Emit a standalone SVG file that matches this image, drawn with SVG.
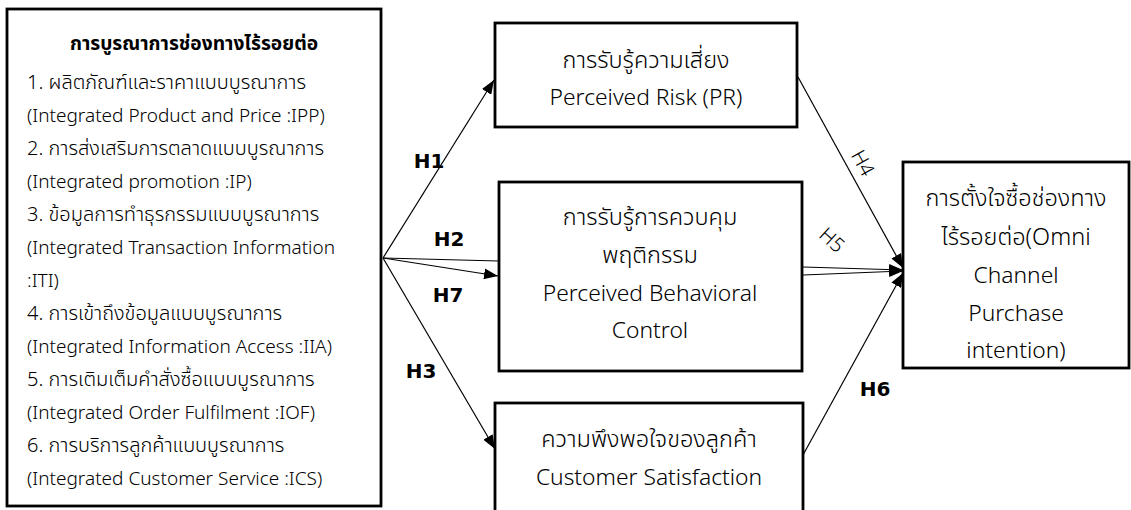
<svg xmlns="http://www.w3.org/2000/svg" width="1131" height="510" viewBox="0 0 1131 510">
  <style>
    .box { fill: #ffffff; stroke: #000000; stroke-width: 2.8; }
    .t { font-family: "Noto Sans", "Noto Sans Thai", "Leelawadee UI", "Open Sans", sans-serif; fill: #000000; font-weight: 300; }
    .en { font-size: 19px; }
    .th { font-size: 20px; }
    .head { font-size: 19.2px; font-weight: bold; }
    .len { font-size: 22.8px; text-anchor: middle; }
    .lth { font-size: 23.5px; text-anchor: middle; }
    .h { font-family: "DejaVu Sans", "Liberation Sans", sans-serif; font-size: 20px; font-weight: bold; fill: #000000; text-anchor: middle; }
    .hr { font-family: "Noto Sans", "Open Sans", sans-serif; font-size: 20px; font-weight: 300; fill: #000000; text-anchor: middle; }
    .edge { stroke: #000000; stroke-width: 1.2; fill: none; }
  </style>
  <defs>
    <marker id="arrow" viewBox="0 0 14 11" refX="14" refY="5.5" markerUnits="userSpaceOnUse" markerWidth="14" markerHeight="11" orient="auto">
      <path d="M0,0 L14,5.5 L0,11 z" fill="#000000"/>
    </marker>
  </defs>

  <rect width="1131" height="510" fill="#ffffff"/>

  <!-- Omni-channel integration factors -->
  <g id="integration">
    <rect class="box" x="7" y="9" width="374" height="497"/>
    <text class="t head" x="194" y="50" text-anchor="middle">การบูรณาการช่องทางไร้รอยต่อ</text>
    <text class="t th" x="27" y="89">1. ผลิตภัณฑ์และราคาแบบบูรณาการ</text>
    <text class="t en" x="27" y="122">(Integrated Product and Price :IPP)</text>
    <text class="t th" x="27" y="155">2. การส่งเสริมการตลาดแบบบูรณาการ</text>
    <text class="t en" x="27" y="188">(Integrated promotion :IP)</text>
    <text class="t th" x="27" y="221">3. ข้อมูลการทำธุรกรรมแบบบูรณาการ</text>
    <text class="t en" x="27" y="254">(Integrated Transaction Information</text>
    <text class="t en" x="27" y="287">:ITI)</text>
    <text class="t th" x="27" y="320">4. การเข้าถึงข้อมูลแบบบูรณาการ</text>
    <text class="t en" x="27" y="353">(Integrated Information Access :IIA)</text>
    <text class="t th" x="27" y="386">5. การเติมเต็มคำสั่งซื้อแบบบูรณาการ</text>
    <text class="t en" x="27" y="419">(Integrated Order Fulfilment :IOF)</text>
    <text class="t th" x="27" y="452">6. การบริการลูกค้าแบบบูรณาการ</text>
    <text class="t en" x="27" y="485">(Integrated Customer Service :ICS)</text>
  </g>

  <!-- Perceived risk -->
  <g id="perceived-risk">
    <rect class="box" x="495" y="23" width="302" height="104"/>
    <text class="t lth" x="646" y="68">การรับรู้ความเสี่ยง</text>
    <text class="t len" x="646" y="105">Perceived Risk (PR)</text>
  </g>

  <!-- Perceived behavioral control -->
  <g id="perceived-behavioral-control">
    <rect class="box" x="499" y="182" width="303" height="189"/>
    <text class="t lth" x="650" y="225">การรับรู้การควบคุม</text>
    <text class="t lth" x="650" y="263">พฤติกรรม</text>
    <text class="t len" x="650" y="301">Perceived Behavioral</text>
    <text class="t len" x="650" y="338">Control</text>
  </g>

  <!-- Customer satisfaction -->
  <g id="customer-satisfaction">
    <rect class="box" x="495" y="403" width="308" height="130"/>
    <text class="t lth" x="649" y="447">ความพึงพอใจของลูกค้า</text>
    <text class="t len" x="649" y="485">Customer Satisfaction</text>
  </g>

  <!-- Omni-channel purchase intention -->
  <g id="purchase-intention">
    <rect class="box" x="903" y="162" width="226" height="206"/>
    <text class="t lth" x="1016" y="206">การตั้งใจซื้อช่องทาง</text>
    <text class="t lth" x="1016" y="245">ไร้รอยต่อ(Omni</text>
    <text class="t len" x="1016" y="283">Channel</text>
    <text class="t len" x="1016" y="321">Purchase</text>
    <text class="t len" x="1016" y="358">intention)</text>
  </g>

  <!-- Hypothesis paths -->
  <g id="connectors">
    <line class="edge" x1="383" y1="258" x2="494" y2="80" marker-end="url(#arrow)"/>
    <line class="edge" x1="383" y1="258" x2="499" y2="261"/>
    <line class="edge" x1="383" y1="258" x2="498" y2="276" marker-end="url(#arrow)"/>
    <line class="edge" x1="383" y1="258" x2="495" y2="449" marker-end="url(#arrow)"/>
    <line class="edge" x1="798" y1="77" x2="903" y2="268" marker-end="url(#arrow)"/>
    <line class="edge" x1="803" y1="267" x2="903" y2="270" marker-end="url(#arrow)"/>
    <line class="edge" x1="803" y1="275" x2="903" y2="271" marker-end="url(#arrow)"/>
    <line class="edge" x1="803" y1="455" x2="903" y2="273" marker-end="url(#arrow)"/>

    <text class="h" x="429" y="168">H1</text>
    <text class="h" x="449" y="246">H2</text>
    <text class="h" x="448" y="302">H7</text>
    <text class="h" x="421" y="378">H3</text>
    <text class="h" x="875" y="396">H6</text>
    <text class="hr" transform="translate(863,163) rotate(61)" y="7">H4</text>
    <text class="hr" transform="translate(832,240) rotate(42)" y="7">H5</text>
  </g>
</svg>
